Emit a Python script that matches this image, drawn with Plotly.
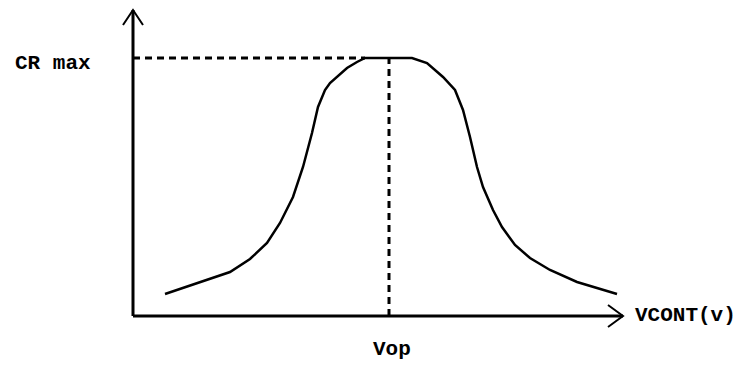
import plotly.graph_objects as go

# response curve, x = control voltage, y = CR (arbitrary units, origin at axis crossing)
curve_x = [32, 74, 97, 117, 134, 147, 160, 170, 179, 185, 192, 197, 204, 214, 224, 232,
           279, 294, 310, 315, 322, 330, 337, 344, 350, 360, 369, 382, 397, 417, 444, 484]
curve_y = [22, 36, 44, 57, 73, 93, 119, 149, 183, 209, 226, 233, 239, 248, 254, 258,
           258, 253, 239, 234, 226, 206, 179, 149, 129, 106, 89, 71, 58, 46, 34, 22]

vop = 256
cr_max = 258
x_axis_end = 490
y_axis_end = 306

label_y = "CR max"
label_x = "VCONT(v)"
label_vop = "Vop"

FONT = dict(family="Liberation Mono", size=21, color="black", weight="bold")


def line(x, y, width, dash="solid"):
    return go.Scatter(x=x, y=y, mode="lines", hoverinfo="skip",
                      line=dict(color="black", width=width, dash=dash))


def main():
    fig = go.Figure()

    # axes with open arrowheads
    fig.add_trace(line([0, x_axis_end], [0, 0], 3))
    fig.add_trace(line([0, 0], [0, y_axis_end], 3))
    fig.add_trace(line([x_axis_end - 15, x_axis_end, x_axis_end - 15], [11, 0, -11], 2))
    fig.add_trace(line([-10, 0, 10], [y_axis_end - 15, y_axis_end, y_axis_end - 15], 2))

    # guides to the peak
    fig.add_trace(line([0, vop - 24], [cr_max, cr_max], 3, "7px,5px"))
    fig.add_trace(line([vop, vop], [0, cr_max], 3, "7px,5px"))

    fig.add_trace(line(curve_x, curve_y, 2.5))

    fig.add_annotation(x=-120, y=cr_max - 5, text=label_y, showarrow=False,
                       xanchor="left", yanchor="middle", font=FONT)
    fig.add_annotation(x=x_axis_end + 10, y=1, text=label_x, showarrow=False,
                       xanchor="left", yanchor="middle", font=FONT)
    fig.add_annotation(x=vop + 3, y=-33, text=label_vop, showarrow=False,
                       xanchor="center", yanchor="middle", font=FONT)

    fig.update_layout(width=744, height=365, margin=dict(l=0, r=0, t=0, b=0),
                      paper_bgcolor="white", plot_bgcolor="white", showlegend=False)
    fig.update_xaxes(range=[-133, 611], visible=False, fixedrange=True)
    fig.update_yaxes(range=[-49, 316], visible=False, fixedrange=True)

    # drop the default body margin so the figure fills the window
    fig.write_html("out.html", config=dict(displayModeBar=False, staticPlot=True),
                   post_script="document.body.style.margin = '0';")


if __name__ == "__main__":
    main()
